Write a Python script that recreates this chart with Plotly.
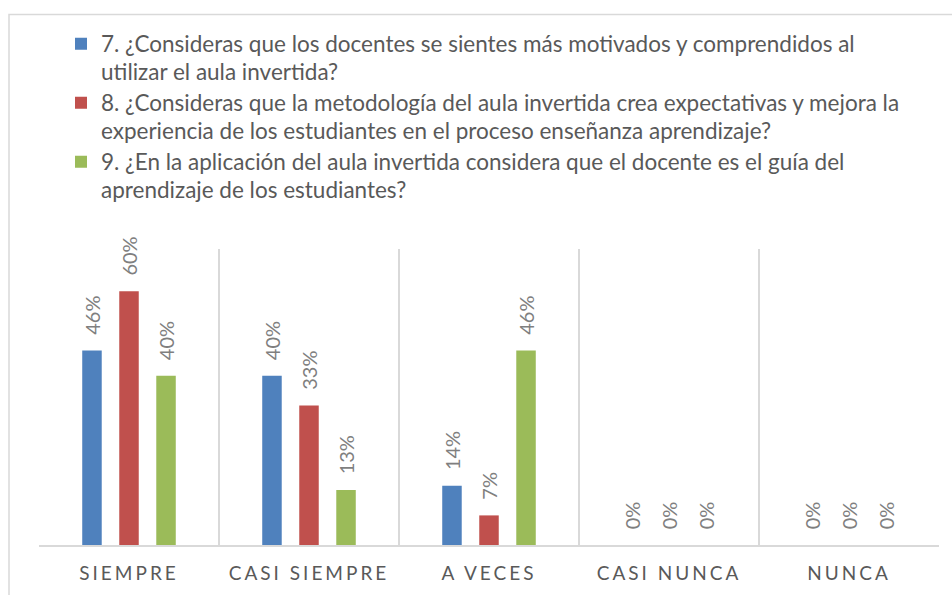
import plotly.graph_objects as go

categories = ["SIEMPRE", "CASI SIEMPRE", "A VECES", "CASI NUNCA", "NUNCA"]
series_lines = [
    ["7. ¿Consideras que los docentes se sientes más motivados y comprendidos al",
     "utilizar el aula invertida?"],
    ["8. ¿Consideras que la metodología del aula invertida crea expectativas y mejora la",
     "experiencia de los estudiantes en el proceso enseñanza aprendizaje?"],
    ["9. ¿En la aplicación del aula invertida considera que el docente es el guía del",
     "aprendizaje de los estudiantes?"],
]
q7 = [0.46, 0.40, 0.14, 0.0, 0.0]
q8 = [0.60, 0.33, 0.07, 0.0, 0.0]
q9 = [0.40, 0.13, 0.46, 0.0, 0.0]
series_values = [q7, q8, q9]
colors = ["#4F81BD", "#C0504D", "#9BBB59"]

FONT = "Lato, Calibri, Carlito, sans-serif"
LABEL_PAD = 0.03  # data-unit gap between bar top and its label


def legend_name(lines):
    return "<br>".join(f'<span style="font-size:22.5px">{ln}</span>' for ln in lines)


fig = go.Figure()
for i, (lines, vals, col) in enumerate(zip(series_lines, series_values, colors)):
    fig.add_trace(go.Bar(
        x=categories, y=vals, name=legend_name(lines),
        marker=dict(color=col, line=dict(width=0)),
        offsetgroup=str(i), hoverinfo="skip",
    ))
for i, vals in enumerate(series_values):
    fig.add_trace(go.Bar(
        x=categories, y=[LABEL_PAD] * len(vals), base=vals,
        offsetgroup=str(i), showlegend=False, hoverinfo="skip",
        marker=dict(color="rgba(0,0,0,0)", line=dict(width=0)),
        text=[f"{v:.0%}" for v in vals], textposition="outside", textangle=-90,
        constraintext="none", cliponaxis=False,
        outsidetextfont=dict(family=FONT, size=20, color="#7F7F7F"),
    ))

tick_text = [f'<span style="letter-spacing:3px">{c}</span>' for c in categories]

fig.update_layout(
    width=952, height=595,
    margin=dict(l=39, r=13, t=249, b=49.5, autoexpand=False),
    paper_bgcolor="white", plot_bgcolor="white",
    barmode="group", bargap=0.383, bargroupgap=0.473,
    font=dict(family=FONT, color="#595959"),
    showlegend=True,
    legend=dict(
        x=(61 - 39) / 900, xanchor="left", y=(545.5 - 23) / 296.5, yanchor="top",
        font=dict(family=FONT, size=21.5, color="#595959"),
        valign="top", bgcolor="rgba(0,0,0,0)", borderwidth=0,
    ),
    xaxis=dict(
        type="category", tickson="boundaries", showgrid=True, gridcolor="#D9D9D9", gridwidth=1.5,
        showline=True, linecolor="#D9D9D9", linewidth=2, ticks="",
        tickmode="array", tickvals=categories, ticktext=tick_text, tickangle=0,
        tickfont=dict(family=FONT, size=19, color="#595959"),
        ticklabelstandoff=10,
        zeroline=False, fixedrange=True,
    ),
    yaxis=dict(range=[0, 0.7], visible=False, showgrid=False, zeroline=False, fixedrange=True),
    shapes=[dict(
        type="rect", xref="paper", yref="paper",
        x0=(9 - 39) / 900, x1=1.2, y0=-0.5, y1=(545.5 - 14) / 296.5,
        line=dict(color="#D9D9D9", width=1.5), fillcolor="rgba(0,0,0,0)", layer="below",
    )],
)

fig.write_html(
    "out.html",
    config={"displayModeBar": False},
    post_script="document.body.style.margin='0';document.body.style.overflow='hidden';",
)
